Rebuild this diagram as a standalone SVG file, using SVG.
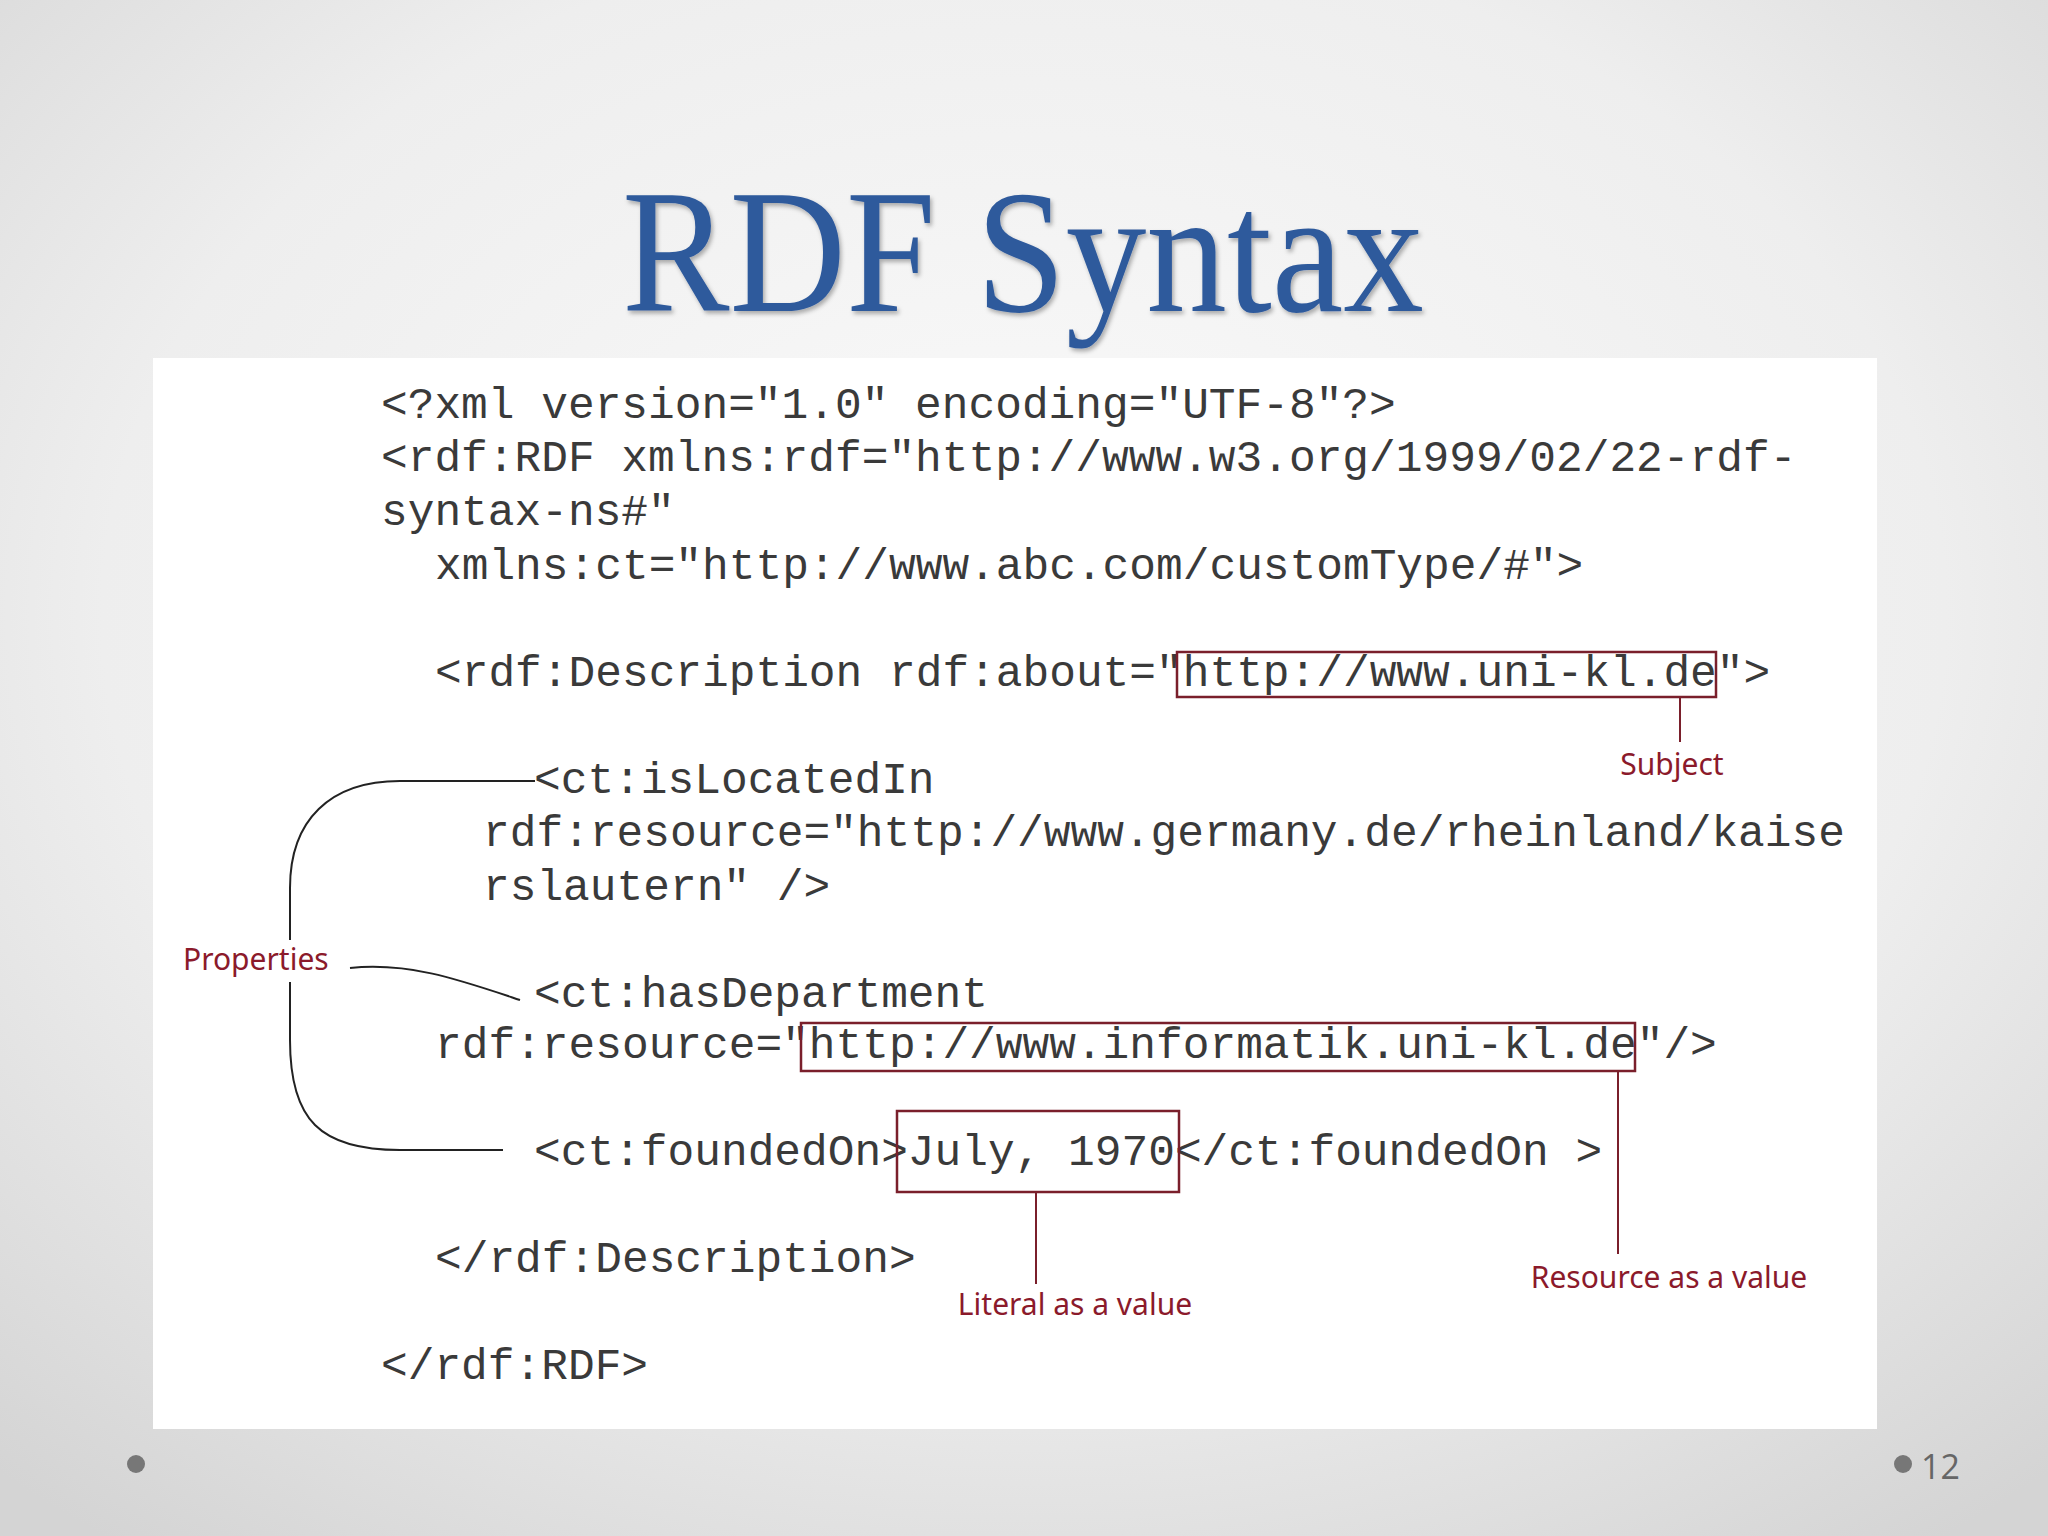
<svg xmlns="http://www.w3.org/2000/svg" width="2048" height="1536" viewBox="0 0 2048 1536">
<defs>
<radialGradient id="bg" cx="50%" cy="40%" r="75%">
<stop offset="0" stop-color="#fbfbfb"/><stop offset="0.6" stop-color="#eeeeee"/><stop offset="1" stop-color="#d4d4d4"/>
</radialGradient>
<filter id="sh" x="-5%" y="-5%" width="110%" height="120%"><feDropShadow dx="2" dy="3" stdDeviation="2" flood-color="#000" flood-opacity="0.3"/></filter>
</defs>
<style>
.code{font-family:"Liberation Mono","Courier New",monospace;font-size:44.5px;fill:#3a3a3a}
.lbl{font-family:"Noto Sans","Open Sans",sans-serif;font-size:30px;fill:#8b1a2b}
.box{fill:none;stroke:#7a1f2b;stroke-width:2.5}
.ln{fill:none;stroke:#222;stroke-width:2}
.lr{fill:none;stroke:#7a1f2b;stroke-width:2}
</style>
<rect width="2048" height="1536" fill="url(#bg)"/>
<text x="1023" y="311" text-anchor="middle" font-family="Liberation Serif,serif" font-size="176" fill="#2f5a9c" filter="url(#sh)" textLength="802" lengthAdjust="spacingAndGlyphs">RDF Syntax</text>
<rect x="153" y="358" width="1724" height="1071" fill="#fff"/>
<g id="code">
<text class="code" x="381" y="418">&lt;?xml version="1.0" encoding="UTF-8"?&gt;</text>
<text class="code" x="381" y="471">&lt;rdf:RDF xmlns:rdf="http://www.w3.org/1999/02/22-rdf-</text>
<text class="code" x="381" y="525">syntax-ns#"</text>
<text class="code" x="435" y="579">xmlns:ct="http://www.abc.com/customType/#"&gt;</text>
<text class="code" x="435" y="686">&lt;rdf:Description rdf:about="http://www.uni-kl.de"&gt;</text>
<text class="code" x="534" y="793">&lt;ct:isLocatedIn</text>
<text class="code" x="483" y="846">rdf:resource="http://www.germany.de/rheinland/kaise</text>
<text class="code" x="483" y="900">rslautern" /&gt;</text>
<text class="code" x="534" y="1007">&lt;ct:hasDepartment</text>
<text class="code" x="435" y="1058">rdf:resource="http://www.informatik.uni-kl.de"/&gt;</text>
<text class="code" x="534" y="1165">&lt;ct:foundedOn&gt;July, 1970&lt;/ct:foundedOn &gt;</text>
<text class="code" x="435" y="1272">&lt;/rdf:Description&gt;</text>
<text class="code" x="381" y="1379">&lt;/rdf:RDF&gt;</text>
</g>
<g id="boxes">
<rect class="box" x="1177" y="652" width="539" height="45"/>
<rect class="box" x="801" y="1023" width="834" height="48"/>
<rect class="box" x="897" y="1111" width="282" height="81"/>
</g>
<g id="connectors">
<path class="lr" d="M1680 697 V742"/>
<path class="lr" d="M1618 1071 V1254"/>
<path class="lr" d="M1036 1192 V1284"/>
<path class="ln" d="M535 781 H400 C330 781 290 820 290 888 V940"/>
<path class="ln" d="M290 982 V1040 C290 1120 320 1150 400 1150 H503"/>
<path class="ln" d="M350 968 C410 962 460 980 520 1000"/>
</g>
<g id="labels">
<text class="lbl" x="1672" y="775" text-anchor="middle">Subject</text>
<text class="lbl" x="1669" y="1288" text-anchor="middle">Resource as a value</text>
<text class="lbl" x="1075" y="1315" text-anchor="middle">Literal as a value</text>
<text class="lbl" x="183" y="970">Properties</text>
</g>
<circle cx="136" cy="1464" r="9" fill="#777"/>
<circle cx="1903" cy="1464" r="9" fill="#777"/>
<text x="1921" y="1479" font-family="Open Sans,sans-serif" font-size="34" fill="#666">12</text>
</svg>
